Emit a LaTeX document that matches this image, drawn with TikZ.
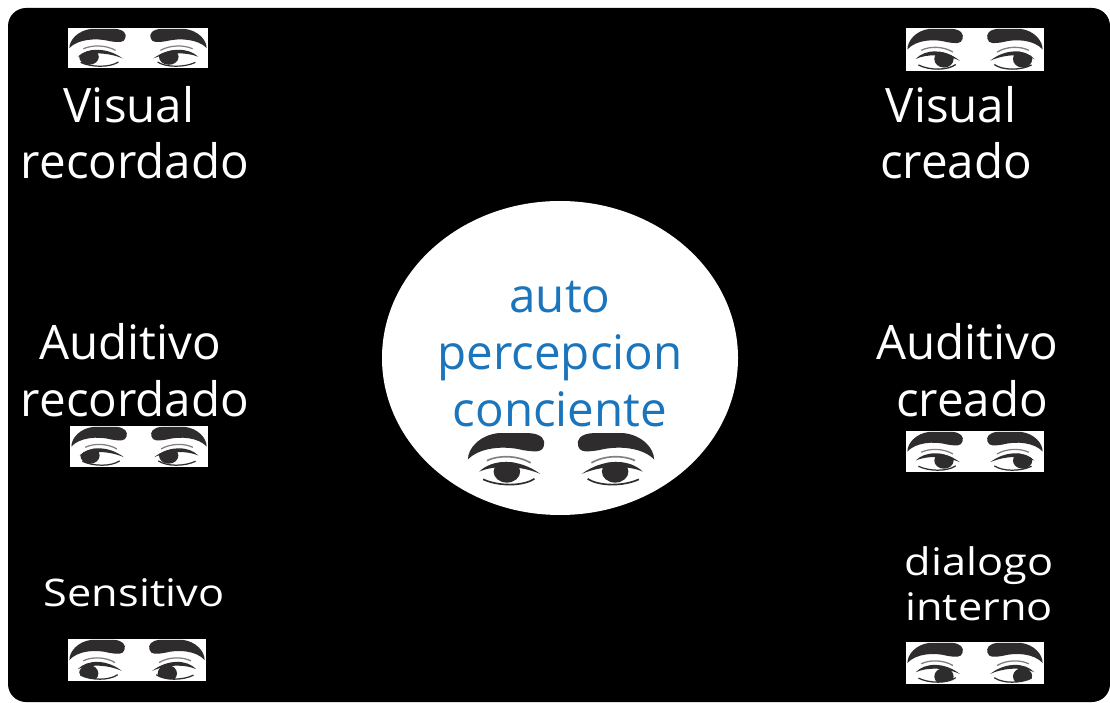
\documentclass[tikz,border=0pt]{standalone}
\usepackage{fontspec}
\setmainfont{Open Sans}
\definecolor{azul}{HTML}{1B75BC}
\definecolor{cejagris}{HTML}{2E2C2D}
\tikzset{
	etiqueta/.style={text=white, anchor=base, font=\fontsize{47.5}{56}\selectfont},
	pequena/.style={text=white, anchor=base, xscale=1.14, transform shape, font=\fontsize{38}{44}\selectfont},
	centro/.style={text=azul, anchor=base, font=\fontsize{47.5}{56}\selectfont},
	ceja/.style={fill=cejagris, draw=none},
}
% un par de ojos: izquierda, arriba, ancho, alto, pupila dx, pupila dy
\newcommand{\ojos}[6]{
	\begin{scope}[shift={(#1,#2)}, xscale=#3, yscale=-#4]
		% ojo izquierdo
		\fill [ceja] (0.01,0.5) .. controls (0.01,0.3) and (0.07,0.06) .. (0.17,0.02) -- (0.33,0.02) .. controls (0.4,0.03) and (0.42,0.15) .. (0.41,0.25) .. controls (0.4,0.38) and (0.36,0.36) .. (0.3,0.33) .. controls (0.2,0.24) and (0.07,0.28) .. (0.01,0.5) -- cycle;
		\draw [color=gray, line width=#4*0.03] (0.11,0.52) .. controls (0.17,0.42) and (0.27,0.42) .. (0.34,0.56);
		\fill [ceja] (0.07,0.72) .. controls (0.14,0.48) and (0.28,0.48) .. (0.39,0.76) .. controls (0.28,0.6) and (0.15,0.6) .. (0.07,0.72) -- cycle;
		\draw [cejagris, line width=#4*0.03] (0.09,0.86) .. controls (0.17,0.99) and (0.3,0.99) .. (0.36,0.85);
		\begin{scope}
			\clip (0.07,0.72) .. controls (0.14,0.48) and (0.28,0.48) .. (0.39,0.76) -- (0.36,0.85) .. controls (0.3,0.99) and (0.17,0.99) .. (0.09,0.86) -- cycle;
			\fill [ceja] (0.215+#5,0.72+#6) circle [x radius=0.07, y radius=0.2];
		\end{scope}
		% ojo derecho
		\fill [ceja] (0.99,0.5) .. controls (0.99,0.3) and (0.93,0.06) .. (0.83,0.02) -- (0.67,0.02) .. controls (0.6,0.03) and (0.58,0.15) .. (0.59,0.25) .. controls (0.6,0.38) and (0.64,0.36) .. (0.7,0.33) .. controls (0.8,0.24) and (0.93,0.28) .. (0.99,0.5) -- cycle;
		\draw [color=gray, line width=#4*0.03] (0.66,0.56) .. controls (0.73,0.42) and (0.83,0.42) .. (0.89,0.52);
		\fill [ceja] (0.61,0.76) .. controls (0.72,0.48) and (0.86,0.48) .. (0.93,0.72) .. controls (0.85,0.6) and (0.72,0.6) .. (0.61,0.76) -- cycle;
		\draw [cejagris, line width=#4*0.03] (0.64,0.85) .. controls (0.7,0.99) and (0.83,0.99) .. (0.91,0.86);
		\begin{scope}
			\clip (0.61,0.76) .. controls (0.72,0.48) and (0.86,0.48) .. (0.93,0.72) -- (0.91,0.86) .. controls (0.83,0.99) and (0.7,0.99) .. (0.64,0.85) -- cycle;
			\fill [ceja] (0.785+#5,0.72+#6) circle [x radius=0.07, y radius=0.2];
		\end{scope}
	\end{scope}
}
\begin{document}
\begin{tikzpicture}[x=1pt, y=1pt]
	\useasboundingbox (0,0) rectangle (1110,702);
	\fill [white] (0,0) rectangle (1110,702);
	% fondo
	\fill [rounded corners=18] (8,0) rectangle (1110,694);

	% circulo central
	\fill [white] (560,344) ellipse [x radius=178, y radius=157];
	\node (auto) at (560,389) [centro] {auto};
	\node (percepcion) at (560,332) [centro] {percepcion};
	\node (conciente) at (560,276) [centro] {conciente};

	% columna izquierda
	\node (visualrec) at (129,579) [etiqueta] {Visual};
	\node (recordadoa) at (135,523) [etiqueta] {recordado};
	\node (auditivorec) at (130,342) [etiqueta] {Auditivo};
	\node (recordadob) at (135,286) [etiqueta] {recordado};
	\node (sensitivo) at (134,96) [pequena] {Sensitivo};

	% columna derecha
	\node (visualcre) at (951,579) [etiqueta] {Visual};
	\node (creadoa) at (956,523) [etiqueta] {creado};
	\node (auditivocre) at (967,342) [etiqueta] {Auditivo};
	\node (creadob) at (972,286) [etiqueta] {creado};
	\node (dialogo) at (979,127) [pequena] {dialogo};
	\node (interno) at (979,82) [pequena] {interno};

	% fondos de los ojos
	\fill [white] (68,634) rectangle (208,674);
	\fill [white] (906,631) rectangle (1044,674);
	\fill [white] (70,235) rectangle (208,276);
	\fill [white] (906,230) rectangle (1044,271);
	\fill [white] (68,21) rectangle (206,63);
	\fill [white] (906,18) rectangle (1044,60);

	% ojos
	\ojos{68}{674}{140}{40}{-0.065}{0}
	\ojos{906}{674}{138}{43}{0.06}{0}
	\ojos{70}{276}{138}{41}{-0.07}{0}
	\ojos{906}{271}{138}{41}{0.06}{0}
	\ojos{68}{63}{138}{42}{-0.065}{0.1}
	\ojos{906}{60}{138}{42}{0.06}{0.1}
	\ojos{466}{270}{190}{55}{0}{0}
\end{tikzpicture}
\end{document}
